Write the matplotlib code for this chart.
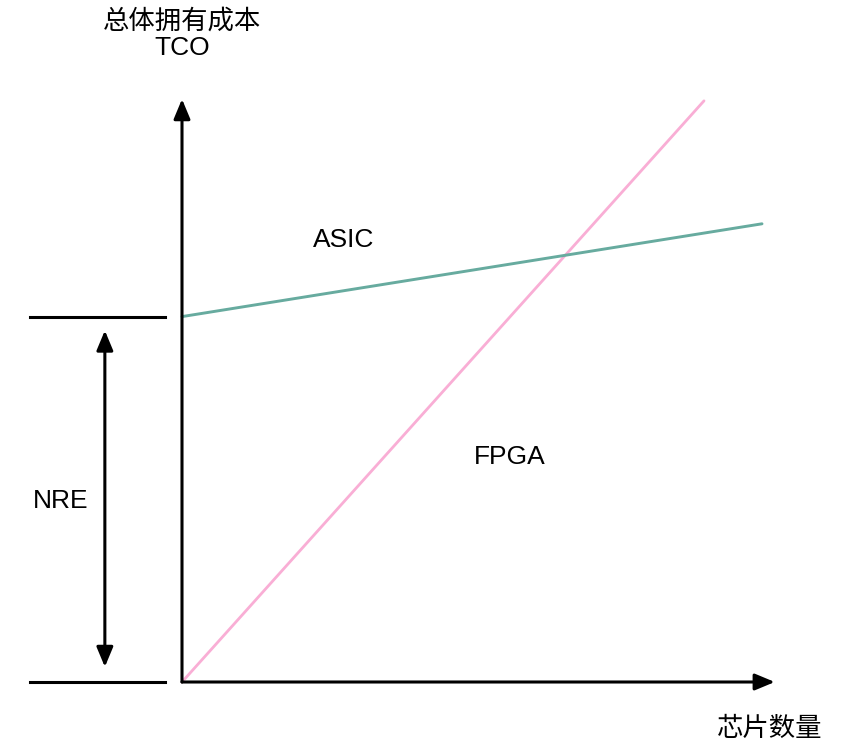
import matplotlib.pyplot as plt

plt.rcParams['font.family'] = ['Liberation Sans', 'Noto Sans CJK SC', 'DejaVu Sans']

# conceptual units: chip count vs total cost of ownership
asic_x = [0, 10.0]
asic_y = [6.3, 7.9]
fpga_x = [0, 9.0]
fpga_y = [0, 10.02]
nre = 6.3
x_axis_end = 10.22
y_axis_end = 10.05

fig = plt.figure(figsize=(8.64, 7.49), dpi=100)
ax = fig.add_axes([0, 0, 1, 1])
ax.set_xlim(-182 / 58, 682 / 58)
ax.set_ylim(-67 / 58, 682 / 58)
ax.axis('off')

head = 'head_length=1.2,head_width=0.5'
black_arrow = dict(arrowstyle='-|>,' + head, lw=2.2,
                   color='black', shrinkA=0, shrinkB=0)

# axes
ax.annotate('', xy=(x_axis_end, 0), xytext=(0, 0), arrowprops=black_arrow)
ax.annotate('', xy=(0, y_axis_end), xytext=(0, 0), arrowprops=black_arrow)

# cost lines
ax.plot(fpga_x, fpga_y, color='#F9AED5', lw=2.0, solid_capstyle='round')
ax.plot(asic_x, asic_y, color='#67AB9F', lw=2.1, solid_capstyle='round')

# NRE markers
ax.plot([-2.62, -0.29], [nre, nre], color='black', lw=2.2)
ax.plot([-2.62, -0.29], [0, 0], color='black', lw=2.2)
ax.annotate('', xy=(-1.33, nre - 0.24), xytext=(-1.33, 0.26),
            arrowprops=dict(arrowstyle='<|-|>,' + head, lw=2.2,
                            color='black', shrinkA=0, shrinkB=0))

fs = 19
ax.text(-2.1, 3.12, 'NRE', fontsize=fs, ha='center', va='center')
ax.text(2.78, 7.62, 'ASIC', fontsize=fs, ha='center', va='center')
ax.text(5.65, 3.88, 'FPGA', fontsize=fs, ha='center', va='center')
ax.text(0, 11.4, '总体拥有成本', fontsize=fs, ha='center', va='center')
ax.text(0, 10.93, 'TCO', fontsize=fs, ha='center', va='center')
ax.text(10.14, -0.8, '芯片数量', fontsize=fs, ha='center', va='center')

fig.savefig('out.png', dpi=100)
